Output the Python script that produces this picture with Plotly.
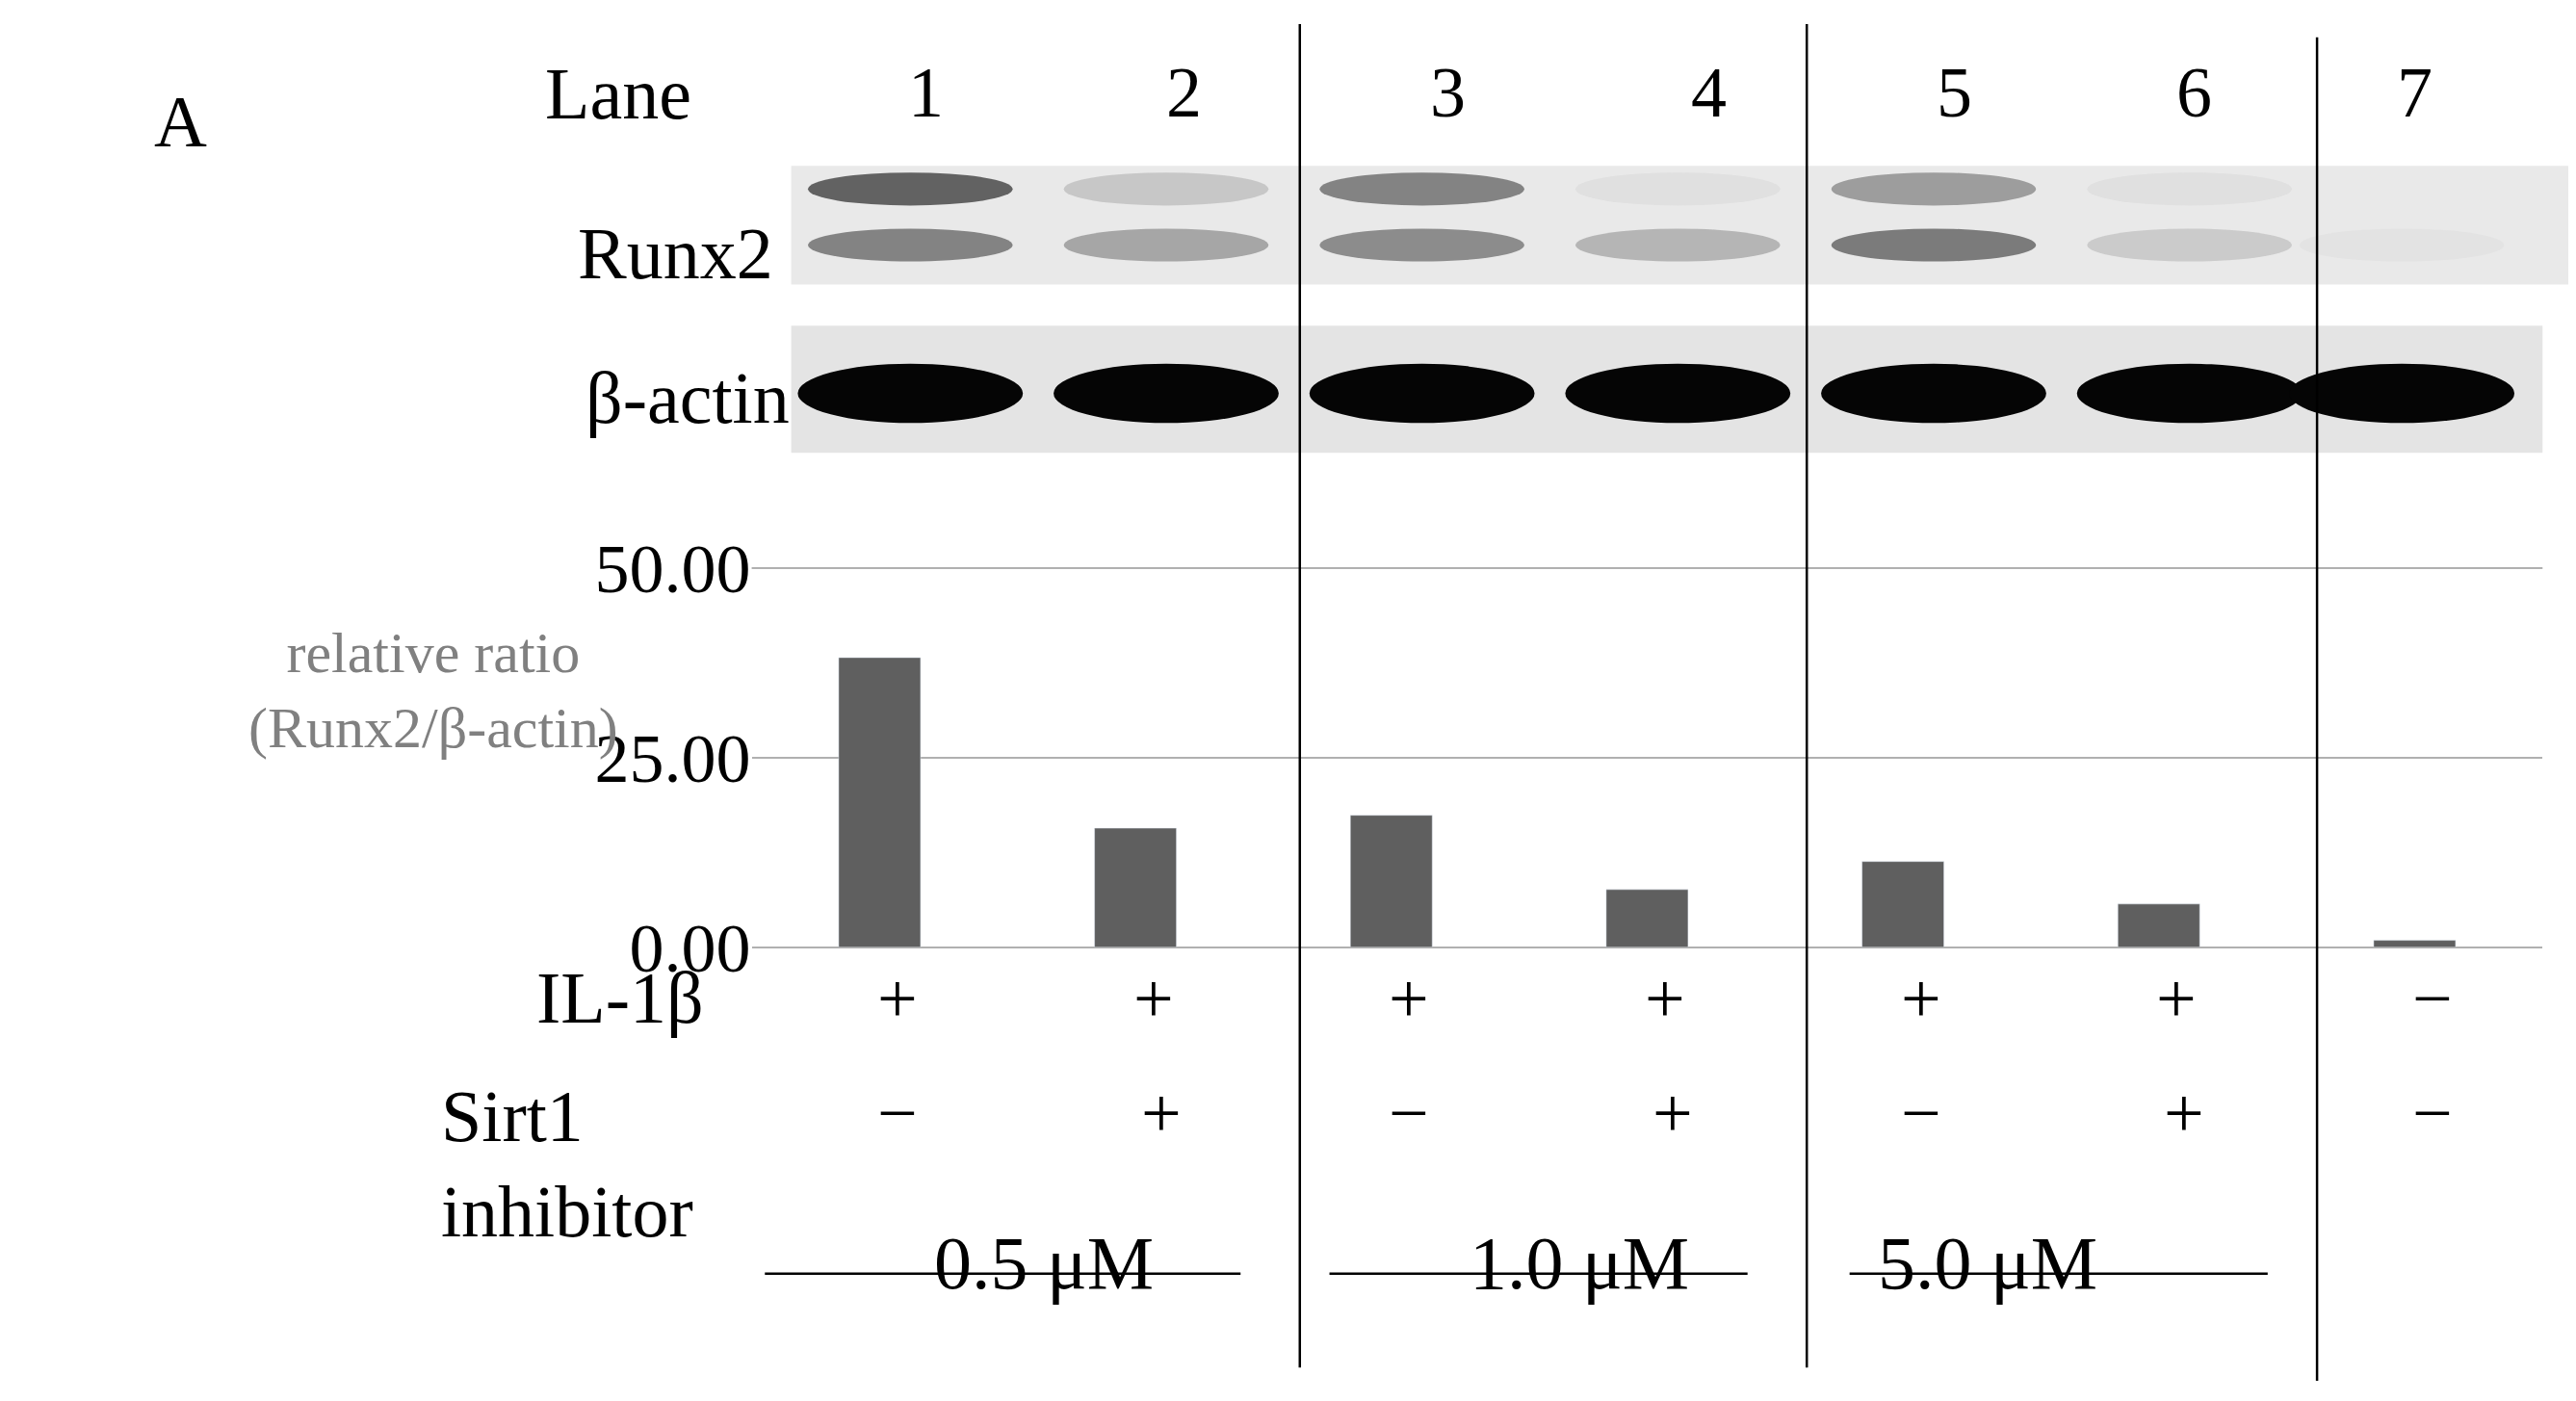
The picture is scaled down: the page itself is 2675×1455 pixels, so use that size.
import plotly.graph_objects as go

lanes = ["1", "2", "3", "4", "5", "6", "7"]
ratio = [38.2, 15.7, 17.4, 7.6, 11.3, 5.7, 0.9]
il1b = ["+", "+", "+", "+", "+", "+", "−"]
sirt1 = ["−", "+", "−", "+", "−", "+", "−"]
doses = ["0.5 μM", "1.0 μM", "5.0 μM"]
runx2_upper = [0.8, 0.2, 0.6, 0.05, 0.45, 0.05, 0.0]
runx2_lower = [0.6, 0.4, 0.55, 0.3, 0.65, 0.18, 0.03]
actin = [1, 1, 1, 1, 1, 1, 1]

W, H = 2675, 1455
DW, DH = 1565, 850
TOFF = 22  # annotation vertical compensation (display px)
px = lambda x: x / DW
py = lambda y: 1 - y / DH
ty = lambda y: 1 - (y - TOFF) / DH
F = "Liberation Serif"

fig = go.Figure(go.Bar(x=list(range(7)), y=ratio, width=0.32, marker_color="#5f5f5f"))

shapes = []
ann = []
shapes.append(dict(type="rect", xref="paper", yref="paper", x0=px(476), x1=px(1558), y0=py(168), y1=py(96),
                   fillcolor="#e9e9e9", line_width=0, layer="below"))
shapes.append(dict(type="rect", xref="paper", yref="paper", x0=px(476), x1=px(1540), y0=py(270), y1=py(193),
                   fillcolor="#e4e4e4", line_width=0, layer="below"))
for i in range(7):
    c = i + 0.12 if i < 6 else i - 0.05
    for val, y0, y1 in [(runx2_upper[i], 120, 100), (runx2_lower[i], 154, 134)]:
        if val > 0:
            shapes.append(dict(type="circle", xref="x", yref="paper", x0=c - 0.4, x1=c + 0.4,
                               y0=py(y0), y1=py(y1), fillcolor="#404040", opacity=val, line_width=0))
    shapes.append(dict(type="circle", xref="x", yref="paper", x0=c - 0.44, x1=c + 0.44,
                       y0=py(252), y1=py(216), fillcolor="#050505", opacity=actin[i], line_width=0))
shapes.append(dict(type="line", xref="paper", yref="paper", x0=px(452), x1=px(1540), y0=py(340), y1=py(340),
                   line=dict(color="#b0b0b0", width=2)))
for x, a, b in [(785, 10, 825), (1093, 10, 825), (1403, 18, 833)]:
    shapes.append(dict(type="line", xref="paper", yref="paper", x0=px(x), x1=px(x), y0=py(a), y1=py(b),
                       line=dict(color="black", width=2.5)))
for (a, b), d in zip([(460, 749), (803, 1057), (1119, 1373)], doses):
    shapes.append(dict(type="line", xref="paper", yref="paper", x0=px(a), x1=px(b), y0=py(768), y1=py(768),
                       line=dict(color="black", width=2.5)))
    ann.append(dict(text=d, xref="paper", yref="paper", x=px((a + b) / 2 + 25), y=ty(810), showarrow=False,
                    font=dict(size=78, family=F, color="black")))

offs = [0.18, 0.19, 0.22, 0.24, 0.2, 0.14, 0.0]
for i in range(7):
    ann.append(dict(text=lanes[i], xref="x", yref="paper", x=i + offs[i], y=ty(48), showarrow=False,
                    font=dict(size=74, family=F, color="black")))
    ann.append(dict(text=il1b[i], xref="x", yref="paper", x=i + 0.07, y=ty(648), showarrow=False,
                    font=dict(size=74, family=F, color="black")))
    ann.append(dict(text=sirt1[i], xref="x", yref="paper", x=i + (0.1 if i % 2 else 0.07), y=ty(718), showarrow=False,
                    font=dict(size=74, family=F, color="black")))

for t, x, y in [("A", 88, 65), ("Lane", 325, 48), ("Runx2", 345, 145), ("β-actin", 350, 233), ("IL-1β", 320, 648)]:
    ann.append(dict(text=t, xref="paper", yref="paper", x=px(x), y=ty(y), showarrow=False,
                    font=dict(size=76, family=F, color="black")))
ann.append(dict(text="Sirt1<br>inhibitor", xref="paper", yref="paper", x=px(262), y=ty(778), xanchor="left",
                align="left", showarrow=False, font=dict(size=76, family=F, color="black")))
ann.append(dict(text="relative ratio<br>(Runx2/β-actin)", xref="paper", yref="paper", x=px(145), y=ty(436),
                showarrow=False, font=dict(size=60, family=F, color="#808080")))

fig.update_layout(
    width=W, height=H, margin=dict(l=0, r=0, t=0, b=0, autoexpand=False), plot_bgcolor="white",
    paper_bgcolor="white", showlegend=False, shapes=shapes, annotations=ann,
    xaxis=dict(domain=[px(452), px(1540)], range=[-0.5, 6.5], showticklabels=False, showgrid=False,
               zeroline=False, showline=False),
    yaxis=dict(domain=[py(570), py(340)], range=[0, 50], tickvals=[0, 25, 50], ticktext=["0.00", "25.00", "50.00"],
               tickfont=dict(size=72, family=F, color="black"), gridcolor="#b0b0b0", gridwidth=2,
               zeroline=True, zerolinecolor="#b0b0b0", zerolinewidth=2, ticks="", ticklen=0),
)
fig.write_html("out.html")
